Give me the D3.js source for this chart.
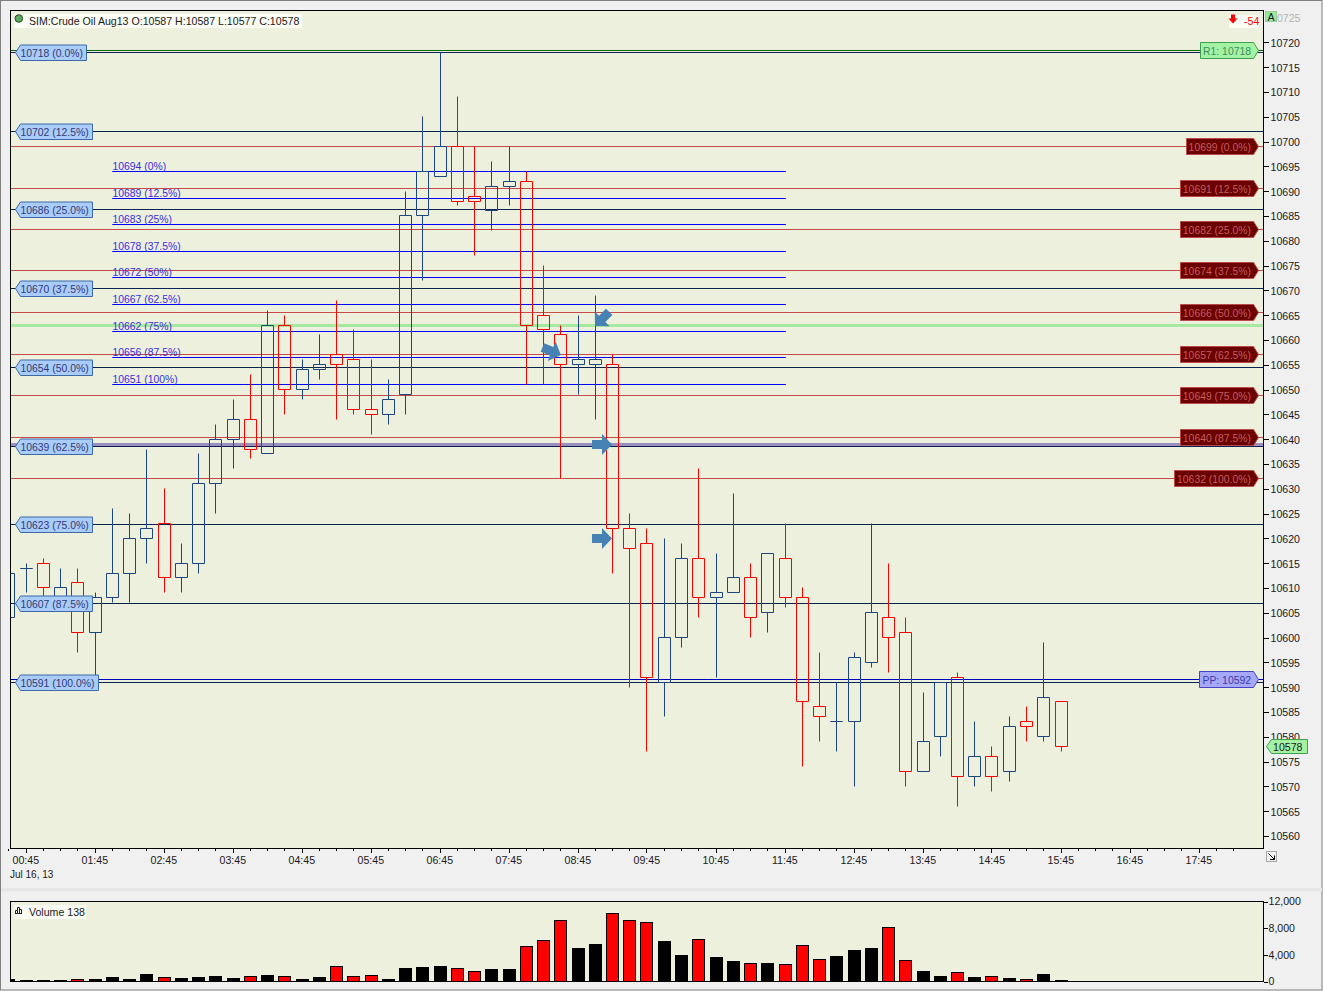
<!DOCTYPE html>
<html>
<head>
<meta charset="utf-8">
<script src="https://cdn.jsdelivr.net/npm/d3@7"></script>
<style>
  html, body { margin: 0; padding: 0; background: #f0f0f0; overflow: hidden; }
  svg { display: block; }
  text { font-family: "Liberation Sans", Arial, sans-serif; font-size: 10.6px; fill: #1a1a1a; }
  .axis path { display: none; }
  .axis line { stroke: #000; shape-rendering: crispEdges; }
</style>
</head>
<body>
<div id="chart"></div>
<script>
// 15 minute bars, the first one (00:30) is cut by the left edge of the plot
const opens = [10604, 10614, 10615, 10608, 10611, 10601, 10608, 10613, 10620, 10623, 10612, 10615, 10631, 10640, 10644, 10637, 10663, 10650, 10654, 10657, 10656, 10646, 10645, 10649, 10685, 10693, 10699, 10689, 10686, 10691, 10692, 10665, 10661, 10655, 10655, 10655, 10622, 10619, 10591, 10600, 10616, 10608, 10609, 10612, 10605, 10616, 10608, 10586, 10583, 10583, 10595, 10604, 10601, 10573, 10580, 10592, 10572, 10576, 10573, 10583, 10580, 10587];
const highs = [10616, 10615, 10616, 10614, 10614, 10609, 10626, 10625, 10638, 10630, 10619, 10637, 10643, 10648, 10653, 10666, 10665, 10656, 10661, 10668, 10662, 10656, 10652, 10690, 10705, 10718, 10709, 10699, 10696, 10699, 10694, 10675, 10663, 10665, 10669, 10657, 10625, 10622, 10620, 10619, 10634, 10617, 10629, 10615, 10617, 10623, 10610, 10597, 10591, 10597, 10623, 10615, 10604, 10589, 10591, 10593, 10583, 10578, 10584, 10586, 10599, 10587];
const lows = [10600, 10609, 10608, 10607, 10597, 10592, 10607, 10607, 10615, 10609, 10609, 10613, 10625, 10634, 10636, 10637, 10645, 10648, 10652, 10644, 10645, 10641, 10643, 10645, 10672, 10693, 10687, 10677, 10682, 10687, 10651, 10651, 10632, 10649, 10644, 10613, 10590, 10577, 10584, 10598, 10604, 10592, 10609, 10600, 10601, 10606, 10574, 10579, 10577, 10570, 10594, 10593, 10570, 10573, 10576, 10566, 10570, 10569, 10571, 10579, 10579, 10577];
const closes = [10613, 10614, 10610, 10610, 10601, 10608, 10613, 10620, 10622, 10612, 10615, 10631, 10640, 10644, 10638, 10663, 10650, 10654, 10655, 10655, 10646, 10645, 10648, 10685, 10694, 10699, 10688, 10688, 10691, 10692, 10663, 10662, 10655, 10656, 10656, 10622, 10618, 10592, 10600, 10616, 10608, 10609, 10612, 10604, 10617, 10608, 10587, 10584, 10583, 10596, 10605, 10600, 10573, 10579, 10591, 10572, 10576, 10572, 10582, 10582, 10588, 10578];
const volumes = [350, 150, 150, 150, 350, 350, 650, 350, 1100, 600, 500, 650, 800, 500, 750, 950, 750, 350, 650, 2250, 750, 900, 350, 2000, 2150, 2300, 1950, 1500, 1850, 1850, 5250, 6150, 9150, 5000, 5600, 10200, 9150, 8850, 6050, 3950, 6300, 3650, 3050, 2700, 2750, 2550, 5400, 3300, 3800, 4700, 5000, 8100, 3150, 1550, 800, 1350, 650, 750, 500, 300, 1100, 138];

const priceTicks = [10720, 10715, 10710, 10705, 10700, 10695, 10690, 10685, 10680, 10675, 10670, 10665, 10660, 10655, 10650, 10645, 10640, 10635, 10630, 10625, 10620, 10615, 10610, 10605, 10600, 10595, 10590, 10585, 10580, 10575, 10570, 10565, 10560];
const volumeTicks = [0, 4000, 8000, 12000];
const timeLabels = ["00:45", "01:45", "02:45", "03:45", "04:45", "05:45", "06:45", "07:45", "08:45", "09:45", "10:45", "11:45", "12:45", "13:45", "14:45", "15:45", "16:45", "17:45"];

// fib levels, left tags
const leftLevels = [10718, 10702.1, 10686.25, 10670.4, 10654.5, 10638.6, 10622.75, 10606.9, 10591];
const leftLabels = ["10718 (0.0%)", "10702 (12.5%)", "10686 (25.0%)", "10670 (37.5%)", "10654 (50.0%)", "10639 (62.5%)", "10623 (75.0%)", "10607 (87.5%)", "10591 (100.0%)"];
// fib levels, right tags
const rightLevels = [10699, 10690.6, 10682.25, 10673.9, 10665.5, 10657.1, 10648.75, 10640.4, 10632];
const rightLabels = ["10699 (0.0%)", "10691 (12.5%)", "10682 (25.0%)", "10674 (37.5%)", "10666 (50.0%)", "10657 (62.5%)", "10649 (75.0%)", "10640 (87.5%)", "10632 (100.0%)"];
// short fib in the middle
const midLevels = [10694, 10688.6, 10683.25, 10677.9, 10672.5, 10667.1, 10661.75, 10656.4, 10651];
const midLabels = ["10694 (0%)", "10689 (12.5%)", "10683 (25%)", "10678 (37.5%)", "10672 (50%)", "10667 (62.5%)", "10662 (75%)", "10656 (87.5%)", "10651 (100%)"];

const r1Level = 10718.35;
const ppLevel = 10591.6;
const greenLevel = 10662.9;
const purpleLevel = 10639;
const lastPrice = 10578;

// arrows: tip position as bar index / price, and heading in degrees
const arrowBars = [34.97, 34.97, 32.01, 33.99];
const arrowPrices = [10638.9, 10619.96, 10656.96, 10662.8];
const arrowAngles = [0, 0, 22, 135];

const W = 1323, H = 991;
const plot = { left: 10.5, right: 1263.5, top: 10.5, bottom: 848.5 };
const volPlot = { top: 901.5, bottom: 981.5 };

const snap = (v) => Math.floor(v) + 0.5;

const svg = d3.select("#chart").append("svg").attr("width", W).attr("height", H);

const x = d3.scaleLinear().domain([0, 72]).range([8.75, 8.75 + 72 * 17.25]);
const y = d3.scaleLinear().domain([10560, 10720]).range([835.9, 42.3]);
const yVol = d3.scaleLinear().domain([0, 12000]).range([981.5, 901.5]);

// window frame
svg.append("rect").attr("x", 0.5).attr("y", 0.5).attr("width", W - 1.5).attr("height", H - 1.5)
  .attr("fill", "#f0f0f0").attr("stroke", "#808080").attr("stroke-width", 1);
svg.append("rect").attr("x", 1).attr("y", 888).attr("width", W - 2).attr("height", 3.5).attr("fill", "#e6e6e6");

// panels
[plot, { left: plot.left, right: plot.right, top: volPlot.top, bottom: volPlot.bottom }].forEach((p) => {
  svg.append("rect").attr("x", p.left).attr("y", p.top)
    .attr("width", p.right - p.left).attr("height", p.bottom - p.top)
    .attr("fill", "#ecf0dd");
});

svg.append("clipPath").attr("id", "plot-clip").append("rect")
  .attr("x", plot.left).attr("y", plot.top).attr("width", plot.right - plot.left).attr("height", plot.bottom - plot.top);
svg.append("clipPath").attr("id", "vol-clip").append("rect")
  .attr("x", plot.left).attr("y", volPlot.top).attr("width", plot.right - plot.left).attr("height", volPlot.bottom - volPlot.top);

const main = svg.append("g").attr("clip-path", "url(#plot-clip)");

function hLine(level, x1, x2, color, width) {
  main.append("line")
    .attr("x1", x1).attr("x2", x2)
    .attr("y1", snap(y(level))).attr("y2", snap(y(level)))
    .attr("stroke", color).attr("stroke-width", width || 1);
}

// horizontal levels
rightLevels.forEach((d) => hLine(d, plot.left, plot.right, "#c64a4a"));
hLine(greenLevel, plot.left, plot.right, "#a6e8a0", 3);
hLine(purpleLevel, plot.left, plot.right, "#9a8fc0", 3);
hLine(ppLevel, plot.left, plot.right, "#0000c0");
leftLevels.forEach((d) => hLine(d, plot.left, plot.right, "#0b2350"));
hLine(r1Level, plot.left, plot.right, "#006400");
midLevels.forEach((d) => hLine(d, x(6), x(45.05), "#0000ff"));

// mid fib labels sit on their lines
main.selectAll(".mid-label").data(midLabels).enter().append("text")
  .attr("class", "mid-label")
  .attr("x", 112.5)
  .attr("y", (d, i) => snap(y(midLevels[i])) - 1.5)
  .style("fill", "#3a2fe0")
  .style("font-size", "10.4px")
  .text((d) => d);

// candles
const candleColor = (i) => (closes[i] < opens[i] ? "#ff0000" : "#1c4680");
const candles = main.selectAll(".candle").data(opens).enter().append("g").attr("class", "candle");

candles.append("line")
  .attr("x1", (d, i) => snap(x(i))).attr("x2", (d, i) => snap(x(i)))
  .attr("y1", (d, i) => snap(y(highs[i])))
  .attr("y2", (d, i) => snap(y(Math.max(opens[i], closes[i]))))
  .attr("stroke", (d, i) => candleColor(i));
candles.append("line")
  .attr("x1", (d, i) => snap(x(i))).attr("x2", (d, i) => snap(x(i)))
  .attr("y1", (d, i) => snap(y(Math.min(opens[i], closes[i]))))
  .attr("y2", (d, i) => snap(y(lows[i])))
  .attr("stroke", (d, i) => candleColor(i));
// bodies as paths, a flat open=close bar has to stay visible
candles.append("path")
  .attr("d", (d, i) => {
    const top = snap(y(Math.max(opens[i], closes[i])));
    const bottom = snap(y(Math.min(opens[i], closes[i])));
    const left = snap(x(i)) - 6;
    return "M" + left + "," + top + "h12V" + bottom + "h-12Z";
  })
  .attr("fill", "none")
  .attr("stroke", (d, i) => candleColor(i));

// blue arrows
const arrowShape = "M-20,-4.5L-10,-4.5L-10,-10.5L0,0L-10,10.5L-10,4.5L-20,4.5Z";
main.selectAll(".arrow").data(arrowAngles).enter().append("path")
  .attr("class", "arrow")
  .attr("d", arrowShape)
  .attr("transform", (d, i) => "translate(" + x(arrowBars[i]) + "," + y(arrowPrices[i]) + ") rotate(" + d + ")")
  .attr("fill", "#4682b4");

// tags
function tagLeft(label, level, fill, stroke, color) {
  const cy = snap(y(level));
  const t = svg.append("text").attr("x", 20.5).attr("y", cy + 4).style("fill", color).style("font-size", "10.4px").text(label);
  const w = t.node().getComputedTextLength();
  const r = Math.round(20 + w + 4) + 0.5;
  svg.insert("path", () => t.node())
    .attr("d", "M15.5," + cy + "L20.5," + (cy - 7.5) + "L" + r + "," + (cy - 7.5) + "L" + r + "," + (cy + 8) + "L20.5," + (cy + 8) + "Z")
    .attr("fill", fill).attr("stroke", stroke);
}

function tagRight(label, level, fill, stroke, color) {
  const cy = snap(y(level));
  const t = svg.append("text").attr("text-anchor", "end").attr("x", 1251).attr("y", cy + 4).style("fill", color).style("font-size", "10.4px").text(label);
  const w = t.node().getComputedTextLength();
  const l = Math.round(1251 - w - 3) + 0.5;
  svg.insert("path", () => t.node())
    .attr("d", "M" + l + "," + (cy - 8) + "L1253.5," + (cy - 8) + "L1258.5," + cy + "L1253.5," + (cy + 8) + "L" + l + "," + (cy + 8) + "Z")
    .attr("fill", fill).attr("stroke", stroke);
}

leftLabels.forEach((d, i) => tagLeft(d, leftLevels[i], "#aaccfa", "#3c6aa6", "#2f3a78"));
rightLabels.forEach((d, i) => tagRight(d, rightLevels[i], "#6b0000", "#bd4a4a", "#c65c5c"));
tagRight("R1: 10718", r1Level, "#a4f2a4", "#3f9f4f", "#3d8f62");
tagRight("PP: 10592", ppLevel, "#a8a8fb", "#4545c4", "#3a3aa8");

// volume panel
const volG = svg.append("g").attr("clip-path", "url(#vol-clip)");
volG.selectAll(".vol-bar").data(volumes).enter().append("rect")
  .attr("class", "vol-bar")
  .attr("x", (d, i) => snap(x(i)) - 6)
  .attr("width", 12)
  .attr("y", (d) => snap(yVol(d)))
  .attr("height", (d) => 981.5 - snap(yVol(d)))
  .attr("fill", (d, i) => (closes[i] < opens[i] ? "#ff0000" : "#000000"))
  .attr("stroke", "#000");

// frames on top of the marks
svg.append("rect").attr("x", plot.left).attr("y", plot.top)
  .attr("width", plot.right - plot.left).attr("height", plot.bottom - plot.top)
  .attr("fill", "none").attr("stroke", "#000");
svg.append("rect").attr("x", plot.left).attr("y", volPlot.top)
  .attr("width", plot.right - plot.left).attr("height", volPlot.bottom - volPlot.top)
  .attr("fill", "none").attr("stroke", "#000");

// axes
const minorBars = d3.range(0, 72);
const majorBars = minorBars.filter((d) => (d - 1) % 4 === 0);

svg.append("g").attr("class", "axis").attr("transform", "translate(0," + plot.bottom + ")")
  .call(d3.axisBottom(x).tickValues(minorBars).tickSize(2).tickFormat(""))
  .selectAll("line").attr("transform", (d) => "translate(" + (snap(x(d)) - x(d) - 0.5) + ",0)");

svg.append("g").attr("class", "axis").attr("transform", "translate(0," + plot.bottom + ")")
  .call(d3.axisBottom(x).tickValues(majorBars).tickSize(4).tickPadding(4).tickFormat((d, i) => timeLabels[i]))
  .call((g) => g.selectAll("line").attr("transform", (d) => "translate(" + (snap(x(d)) - x(d) - 0.5) + ",0)"))
  .call((g) => g.selectAll("text").attr("dx", -0.7).style("font-size", "10.6px").style("fill", "#1a1a1a").style("font-family", "Liberation Sans"));

svg.append("g").attr("class", "axis").attr("transform", "translate(" + plot.right + ",0)")
  .call(d3.axisRight(y).tickValues(priceTicks).tickSize(5).tickPadding(2).tickFormat(d3.format("d")))
  .call((g) => g.selectAll("text").attr("dy", "0.37em").style("font-size", "10.6px").style("fill", "#1a1a1a").style("font-family", "Liberation Sans"));

svg.append("g").attr("class", "axis").attr("transform", "translate(" + plot.right + ",0)")
  .call(d3.axisRight(yVol).tickValues(volumeTicks).tickSize(4).tickPadding(1).tickFormat(d3.format(",")))
  .call((g) => g.selectAll("text").style("font-size", "10.6px").style("fill", "#1a1a1a").style("font-family", "Liberation Sans"));

// faded top label behind the autoscale button
svg.append("text").attr("x", 1271).attr("y", y(10725) + 4).style("fill", "#b4b4b4").text("10725");
svg.append("rect").attr("x", 1265.5).attr("y", 11.5).attr("width", 11).attr("height", 10).attr("fill", "#98e898").attr("stroke", "#a0c8a0");
svg.append("text").attr("x", 1271).attr("y", 20.5).attr("text-anchor", "middle").text("A");

svg.append("text").attr("x", 10).attr("y", 877.5).style("font-size", "10px").text("Jul 16, 13");

// last price tag
const lastY = snap(y(lastPrice));
svg.append("path")
  .attr("d", "M1266.5," + lastY + "L1271.5," + (lastY - 7) + "L1307.5," + (lastY - 7) + "L1307.5," + (lastY + 7) + "L1271.5," + (lastY + 7) + "Z")
  .attr("fill", "#a4f2a4").attr("stroke", "#3f9f4f");
svg.append("text").attr("x", 1273).attr("y", lastY + 4).text(lastPrice);

// chart titles
svg.append("rect").attr("x", 14).attr("y", 14).attr("width", 288).attr("height", 14).attr("fill", "#fbfcf4");
svg.append("circle").attr("cx", 18.8).attr("cy", 18.5).attr("r", 3.8).attr("fill", "#5fa85f").attr("stroke", "#234a23");
svg.append("text").attr("x", 29).attr("y", 24.5).text("SIM:Crude Oil Aug13 O:10587 H:10587 L:10577 C:10578");

svg.append("rect").attr("x", 14).attr("y", 905).attr("width", 72).attr("height", 14).attr("fill", "#fbfcf4");
svg.append("path").attr("d", "M15.5,913.5V910.5H17.5V913.5M17.5,913.5V907.5H19.5V913.5M19.5,913.5V909.5H21.5V913.5M15,913.5H22").attr("fill", "none").attr("stroke", "#222");
svg.append("text").attr("x", 29).attr("y", 915.5).text("Volume 138");

// position change box
svg.append("rect").attr("x", 1229).attr("y", 15).attr("width", 30).attr("height", 13).attr("fill", "#fbfcf4");
svg.append("path").attr("d", "M1231,14.5H1235V18.5H1237.5L1233,23.5L1228.5,18.5H1231Z").attr("fill", "#ff0000");
svg.append("text").attr("x", 1244).attr("y", 25).style("font-size", "10.6px").style("fill", "#ff0000").text("-54");

// scroll corner button
svg.append("rect").attr("x", 1266.5).attr("y", 851.5).attr("width", 10).attr("height", 10).attr("fill", "#f0f0f0").attr("stroke", "#a8a8a8");
svg.append("path").attr("d", "M1268.5,853.5L1274.5,859.5M1274.5,855.5V859.5H1270").attr("fill", "none").attr("stroke", "#000");
</script>
</body>
</html>
